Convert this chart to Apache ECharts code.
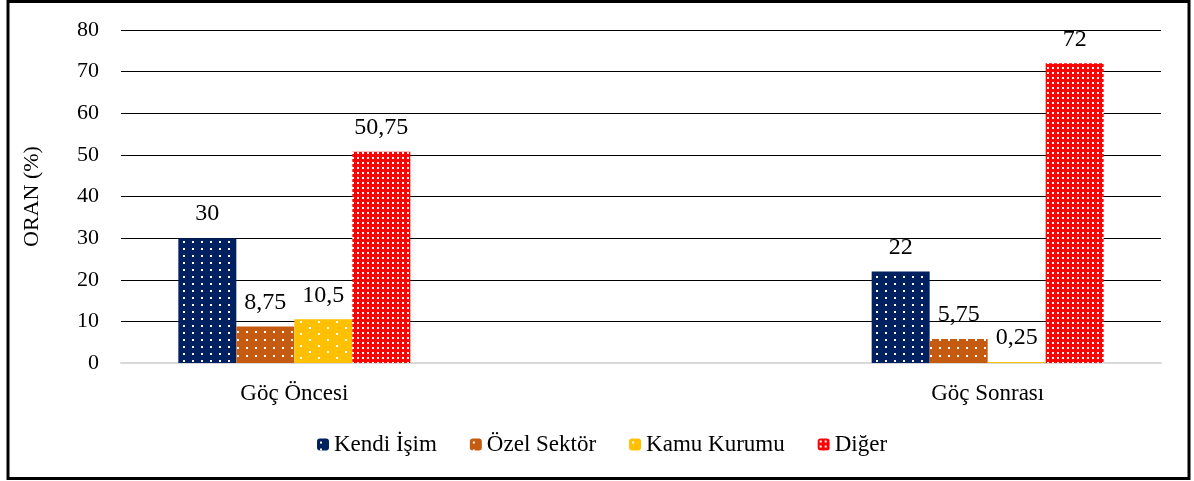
<!DOCTYPE html>
<html>
<head>
<meta charset="utf-8">
<script src="https://cdn.jsdelivr.net/npm/echarts@6/dist/echarts.min.js"></script>
<style>
html,body{margin:0;padding:0;background:#fff;}
#c{width:1194px;height:481px;}
</style>
</head>
<body>
<div id="c"></div>
<script>
const categories = ['Göç Öncesi', '', 'Göç Sonrası'];
const seriesNames = ['Kendi İşim', 'Özel Sektör', 'Kamu Kurumu', 'Diğer'];
const kendiIsim = [30, null, 22];
const ozelSektor = [8.75, null, 5.75];
const kamuKurumu = [10.5, null, 0.25];
const diger = [50.75, null, 72];
const yTicks = [0, 10, 20, 30, 40, 50, 60, 70, 80];

function pattern(bg, w, h, dots, ds) {
  const c = document.createElement('canvas');
  c.width = w; c.height = h;
  const g = c.getContext('2d');
  g.fillStyle = bg; g.fillRect(0, 0, w, h);
  g.fillStyle = '#ffffff';
  dots.forEach(d => g.fillRect(d[0], d[1], ds, ds));
  return {image: c, repeat: 'repeat'};
}
const fills = [
  pattern('#002060', 9, 7, [[3, 3]], 2),
  pattern('#C55A11', 9, 8, [[3, 3]], 2),
  pattern('#FFC000', 18, 12, [[3, 3], [12, 9]], 2),
  pattern('#FF0000', 5, 5, [[2, 2]], 2)
];
const dataSets = [kendiIsim, ozelSektor, kamuKurumu, diger];
const font = '"Liberation Serif", "Times New Roman", serif';

const chart = echarts.init(document.getElementById('c'), null, {renderer: 'canvas'});
chart.setOption({
  animation: false,
  textStyle: {fontFamily: font},
  graphic: [{
    type: 'rect',
    shape: {x: 8, y: 1.5, width: 1181, height: 477},
    style: {fill: 'none', stroke: '#000', lineWidth: 3},
    z: 100
  }],
  grid: {left: 121, right: 33, top: 30, bottom: 118, containLabel: false},
  legend: {
    top: 433,
    left: 317,
    padding: 0,
    itemWidth: 12,
    itemHeight: 12,
    itemGap: 33,
    textStyle: {fontFamily: font, fontSize: 23, color: '#000'},
    data: seriesNames
  },
  xAxis: {
    type: 'category',
    data: categories,
    axisLine: {lineStyle: {color: '#d9d9d9', width: 2}},
    axisTick: {show: false},
    axisLabel: {fontFamily: font, fontSize: 23, color: '#000', margin: 19}
  },
  yAxis: {
    type: 'value',
    min: 0, max: 80, interval: 10,
    name: 'ORAN (%)',
    nameLocation: 'middle',
    nameGap: 78,
    nameTextStyle: {fontFamily: font, fontSize: 22, color: '#000'},
    axisLine: {show: false},
    axisTick: {show: false},
    axisLabel: {fontFamily: font, fontSize: 22, color: '#000', margin: 22,
      formatter: v => yTicks.includes(v) ? String(v) : ''},
    splitLine: {lineStyle: {color: '#000', width: 1}}
  },
  series: seriesNames.map((n, i) => ({
    name: n,
    type: 'bar',
    data: dataSets[i],
    barWidth: 58,
    barGap: '0%',
    itemStyle: {color: fills[i]},
    label: {
      show: true,
      position: 'top',
      distance: 12,
      fontFamily: font,
      fontSize: 24,
      color: '#000',
      formatter: p => String(p.value).replace('.', ',')
    }
  }))
});
</script>
</body>
</html>
